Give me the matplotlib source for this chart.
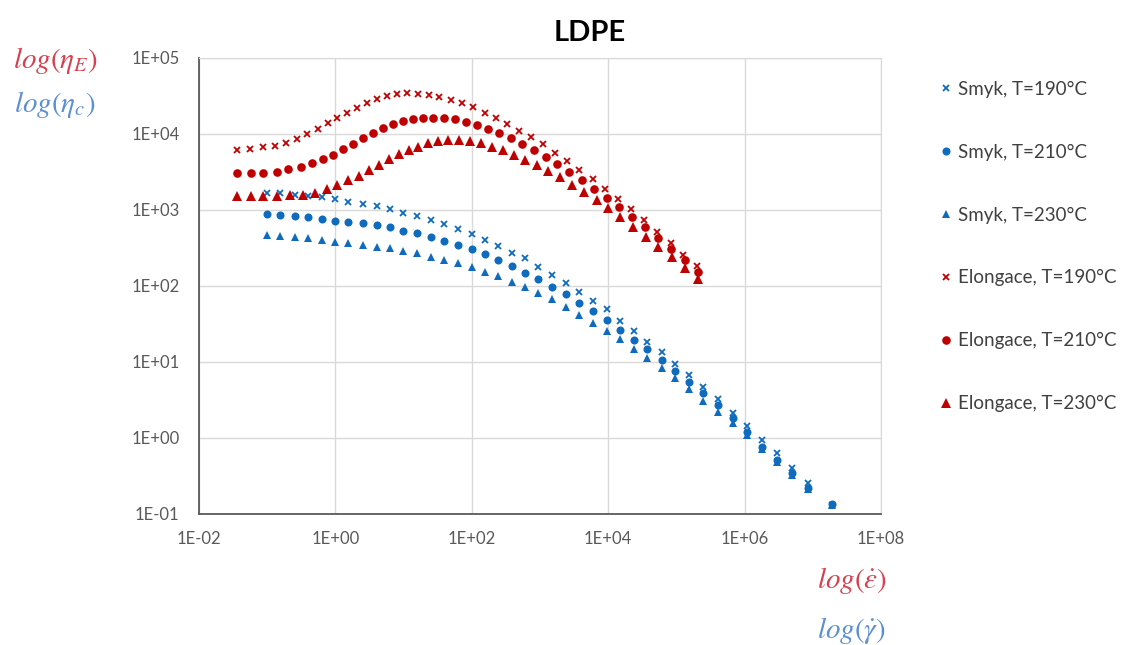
import math
import matplotlib
matplotlib.use("Agg")
import matplotlib.pyplot as plt
from matplotlib.ticker import FixedLocator, FuncFormatter, NullLocator

plt.rcParams['font.family'] = ['Lato', 'DejaVu Sans']
plt.rcParams['mathtext.fontset'] = 'stix'

# shear (Smyk) - shared rate grid
shear_rate = [0.0984, 0.154, 0.256, 0.401, 0.630, 0.986, 1.55, 2.51, 4.04, 6.32,
              9.91, 15.9, 24.9, 39.5, 62.1, 99.7, 156, 245, 385, 603,
              944, 1480, 2400, 3770, 5930, 9510, 14900, 23900, 37400, 60800,
              95300, 155000, 248000, 411000, 668000, 1.07e6, 1.78e6, 2.96e6, 4.91e6, 8.59e6,
              1.89e7]
smyk_190 = [1690, 1660, 1570, 1530, 1470, 1380, 1290, 1200, 1130, 1020,
            921, 834, 738, 654, 557, 483, 403, 336, 274, 231,
            179, 140, 109, 84.1, 64.1, 49.3, 34.9, 25.6, 18.5, 13.7,
            9.42, 6.75, 4.73, 3.23, 2.15, 1.44, 0.942, 0.630, 0.399, 0.254,
            0.131]
smyk_210 = [885, 859, 834, 802, 755, 723, 695, 675, 635, 592,
            535, 493, 445, 394, 346, 304, 264, 220, 183, 150,
            122, 97.9, 77.8, 60.3, 46.9, 35.7, 26.4, 19.5, 14.7, 10.6,
            7.69, 5.51, 3.94, 2.72, 1.82, 1.21, 0.769, 0.514, 0.344, 0.218,
            0.136]
smyk_230 = [469, 455, 437, 424, 403, 383, 365, 346, 329, 313,
            291, 269, 243, 220, 199, 176, 154, 135, 114, 96.2,
            80.2, 66.8, 52.5, 41.5, 32.3, 25.8, 19.9, 14.7, 11.2, 8.26,
            6.11, 4.38, 3.10, 2.22, 1.56, 1.09, 0.710, 0.488, 0.326, 0.211,
            0.131]

# elongation (Elongace)
elong_rate_190 = [0.0365, 0.0560, 0.0859, 0.129, 0.189, 0.276, 0.387, 0.556, 0.778, 1.07,
                  1.47, 2.05, 2.88, 4.04, 5.65, 7.93, 11.3, 16.4, 23.8, 33.3,
                  49.1, 71.8, 105, 155, 226, 332, 497, 745, 1100, 1660,
                  2510, 3770, 5930, 9060, 13900, 21400, 33500, 52500, 82400, 126000,
                  202000]
elong_190 = [6150, 6290, 6680, 6950, 7690, 8520, 10000, 11500, 13800, 16100,
             19100, 21800, 25400, 28600, 31600, 33600, 34300, 33600, 32600, 30400,
             28000, 25400, 22500, 19100, 16100, 13500, 11100, 9060, 7390, 5680,
             4450, 3360, 2540, 1870, 1380, 1020, 738, 518, 365, 256,
             183]
elong_rate_210 = [0.0365, 0.0573, 0.0877, 0.138, 0.204, 0.310, 0.449, 0.652, 0.931, 1.31,
                  1.83, 2.56, 3.52, 4.94, 6.92, 9.70, 13.6, 19.1, 27.2, 39.1,
                  56.7, 82.2, 118, 173, 253, 372, 550, 817, 1220, 1790,
                  2690, 4080, 6190, 9510, 14600, 22300, 34700, 54300, 82400, 134000,
                  209000]
elong_210 = [3040, 3040, 3100, 3190, 3430, 3720, 4120, 4650, 5290, 6290,
             7390, 8780, 10200, 11900, 13400, 14800, 15700, 16400, 16400, 16100,
             15600, 14500, 13300, 11700, 10200, 8780, 7390, 6150, 4940, 4030,
             3190, 2480, 1910, 1440, 1090, 802, 592, 424, 304, 220,
             154]
elong_rate_230 = [0.0365, 0.0573, 0.0877, 0.141, 0.216, 0.332, 0.502, 0.745, 1.07, 1.55,
                  2.24, 3.14, 4.41, 6.17, 8.65, 12.1, 16.4, 23.0, 32.3, 45.2,
                  65.6, 94.2, 135, 196, 284, 416, 603, 895, 1320, 1960,
                  2920, 4420, 6780, 10000, 14900, 23300, 35800, 54300, 85300, 134000,
                  209000]
elong_230 = [1530, 1530, 1530, 1530, 1560, 1590, 1690, 1870, 2130, 2480,
             2800, 3360, 3910, 4650, 5400, 6150, 6810, 7550, 8160, 8340,
             8340, 8160, 7550, 6810, 6150, 5290, 4550, 3910, 3290, 2690,
             2130, 1740, 1350, 1050, 817, 603, 445, 329, 243, 171,
             122]

x_ticks = [1e-2, 1e0, 1e2, 1e4, 1e6, 1e8]
y_ticks = [1e-1, 1e0, 1e1, 1e2, 1e3, 1e4, 1e5]

blue = '#0E6BBE'
red = '#C00000'

fig = plt.figure(figsize=(11.21, 6.45), dpi=100)
ax = fig.add_axes([199 / 1121, 1 - 514 / 645, 682 / 1121, 456 / 645])

ax.plot(shear_rate, smyk_190, ls='none', marker='x', ms=5, mew=1.3, color=blue, label='Smyk, T=190°C')
ax.plot(shear_rate, smyk_210, ls='none', marker='o', ms=5.8, mew=0, color=blue, label='Smyk, T=210°C')
ax.plot(shear_rate, smyk_230, ls='none', marker='^', ms=6, mew=0, color=blue, label='Smyk, T=230°C')
ax.plot(elong_rate_190, elong_190, ls='none', marker='x', ms=5, mew=1.3, color=red, label='Elongace, T=190°C')
ax.plot(elong_rate_210, elong_210, ls='none', marker='o', ms=6.2, mew=0, color=red, label='Elongace, T=210°C')
ax.plot(elong_rate_230, elong_230, ls='none', marker='^', ms=7.5, mew=0, color=red, label='Elongace, T=230°C')

ax.set_xscale('log')
ax.set_yscale('log')
ax.set_xlim(1e-2, 1e8)
ax.set_ylim(1e-1, 1e5)

fmt = FuncFormatter(lambda v, p: '1E%+03d' % round(math.log10(v)))
ax.xaxis.set_major_locator(FixedLocator(x_ticks))
ax.yaxis.set_major_locator(FixedLocator(y_ticks))
ax.xaxis.set_minor_locator(NullLocator())
ax.yaxis.set_minor_locator(NullLocator())
ax.xaxis.set_major_formatter(fmt)
ax.yaxis.set_major_formatter(fmt)
ax.tick_params(axis='both', length=0, labelsize=12, labelcolor='#595959')
ax.tick_params(axis='x', pad=12)
ax.tick_params(axis='y', pad=14)

ax.grid(True, color='#D9D9D9', lw=1)
ax.set_axisbelow(True)
for s in ['top', 'right']:
    ax.spines[s].set_color('#D9D9D9')
for s in ['left', 'bottom']:
    ax.spines[s].set_color('#595959')
    ax.spines[s].set_linewidth(1.3)

fig.text(590 / 1121, 1 - 33 / 645, 'LDPE', ha='center', va='center', fontsize=21, fontweight='bold', color='black')

fig.legend(loc='upper left', bbox_to_anchor=(919 / 1121, 1 - 64 / 645), frameon=False,
           fontsize=13.5, labelspacing=2.44, handletextpad=0.1, handlelength=1.1, labelcolor='#404040')

red_lab = '#D7404E'
blue_lab = '#5B8FD4'
fig.text(55 / 1121, 1 - 60 / 645, r'$log(\eta_E)$', ha='center', va='center', fontsize=21, color=red_lab)
fig.text(55 / 1121, 1 - 105 / 645, r'$log(\eta_c)$', ha='center', va='center', fontsize=21, color=blue_lab)
fig.text(852 / 1121, 1 - 580 / 645, r'$log(\dot{\varepsilon})$', ha='center', va='center', fontsize=21, color=red_lab)
fig.text(852 / 1121, 1 - 630 / 645, r'$log(\dot{\gamma})$', ha='center', va='center', fontsize=21, color=blue_lab)

fig.savefig('out.png', dpi=100)
